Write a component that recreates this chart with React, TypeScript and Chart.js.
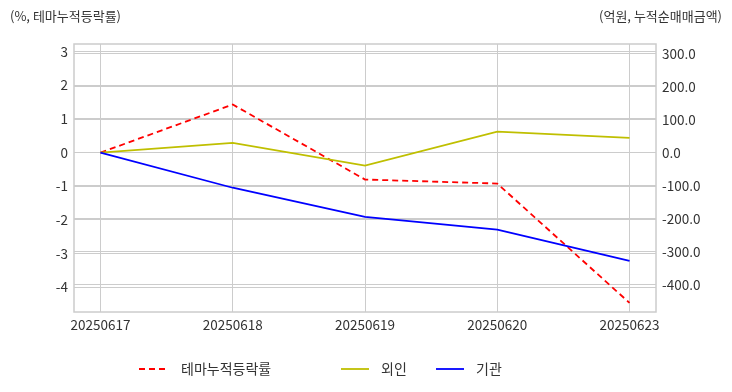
import React, { useEffect, useRef } from 'react';
import { Chart, registerables } from 'chart.js';

Chart.register(...registerables);

const dates = ['20250617', '20250618', '20250619', '20250620', '20250623'];
const themeRate = [0, 1.43, -0.8, -0.92, -4.47];
const foreignNet = [0, 30, -39, 64, 45];
const institutionNet = [0, -106, -194, -233, -327];
const leftTicks = [3, 2, 1, 0, -1, -2, -3, -4];
const rightTicks = [300, 200, 100, 0, -100, -200, -300, -400];
const leftTitle = '(%, 테마누적등락률)';
const rightTitle = '(억원, 누적순매매금액)';
const seriesNames = ['테마누적등락률', '외인', '기관'];
const seriesColors = ['#ff0000', '#bfbf00', '#0000ff'];

const FONT = '"Noto Sans CJK KR", "Noto Sans", sans-serif';
const TEXT = '#333333';
const GRID = '#cccccc';

const overlay = {
  id: 'overlay',
  beforeDatasetsDraw(chart: any) {
    const { ctx, chartArea: a } = chart;
    ctx.save();
    ctx.strokeStyle = GRID;
    ctx.lineWidth = 1.5;
    ctx.strokeRect(a.left, a.top, a.right - a.left, a.bottom - a.top);
    ctx.restore();
  },
  afterDraw(chart: any) {
    const { ctx } = chart;
    ctx.save();
    ctx.fillStyle = TEXT;
    ctx.font = `13px ${FONT}`;
    ctx.textBaseline = 'middle';
    ctx.textAlign = 'left';
    ctx.fillText(leftTitle, 10, 16);
    ctx.textAlign = 'right';
    ctx.fillText(rightTitle, 722, 16);

    const items = [
      { x: 139, tx: 181, dash: [6, 4] },
      { x: 341, tx: 381, dash: [] },
      { x: 436, tx: 476, dash: [] },
    ];
    const ly = 369;
    items.forEach((it, i) => {
      ctx.beginPath();
      ctx.setLineDash(it.dash);
      ctx.strokeStyle = seriesColors[i];
      ctx.lineWidth = 1.8;
      ctx.moveTo(it.x, ly);
      ctx.lineTo(it.x + 28, ly);
      ctx.stroke();
      ctx.setLineDash([]);
      ctx.fillStyle = TEXT;
      ctx.font = `14px ${FONT}`;
      ctx.textAlign = 'left';
      ctx.textBaseline = 'middle';
      ctx.fillText(seriesNames[i], it.tx, ly);
    });
    ctx.restore();
  },
};

export default function App() {
  const ref = useRef<HTMLCanvasElement | null>(null);

  useEffect(() => {
    document.body.style.margin = '0';
    const canvas = ref.current;
    if (!canvas) return;
    const toPts = (arr: number[]) => arr.map((v, i) => ({ x: i, y: v }));
    const chart = new Chart(canvas, {
      type: 'line',
      data: {
        datasets: [
          {
            label: seriesNames[0],
            data: toPts(themeRate),
            yAxisID: 'y',
            borderColor: seriesColors[0],
            borderDash: [6, 4],
            borderWidth: 1.8,
            pointRadius: 0,
            tension: 0,
            order: 3,
          },
          {
            label: seriesNames[1],
            data: toPts(foreignNet),
            yAxisID: 'y1',
            borderColor: seriesColors[1],
            borderWidth: 1.8,
            pointRadius: 0,
            tension: 0,
            order: 2,
          },
          {
            label: seriesNames[2],
            data: toPts(institutionNet),
            yAxisID: 'y1',
            borderColor: seriesColors[2],
            borderWidth: 1.8,
            pointRadius: 0,
            tension: 0,
            order: 1,
          },
        ],
      },
      options: {
        responsive: false,
        animation: false,
        events: [],
        layout: { padding: { top: 44, left: 0, right: 0, bottom: 0 } },
        plugins: { legend: { display: false }, tooltip: { enabled: false } },
        scales: {
          x: {
            type: 'linear',
            min: -0.2,
            max: 4.2,
            afterBuildTicks: (s: any) => {
              s.ticks = dates.map((_, i) => ({ value: i }));
            },
            afterFit: (s: any) => {
              s.height = 80;
            },
            ticks: {
              callback: (v: any) => dates[v as number] ?? '',
              color: TEXT,
              font: { family: FONT, size: 13.5 },
              padding: 5,
              maxRotation: 0,
              autoSkip: false,
            },
            grid: { color: GRID, lineWidth: 1, drawTicks: false },
            border: { display: false },
          },
          y: {
            type: 'linear',
            position: 'left',
            min: -4.74,
            max: 3.23,
            afterBuildTicks: (s: any) => {
              s.ticks = leftTicks.map((v) => ({ value: v }));
            },
            afterFit: (s: any) => {
              s.width = 74;
            },
            ticks: {
              callback: (v: any) => String(v),
              color: TEXT,
              font: { family: FONT, size: 13.5 },
              padding: 6,
            },
            grid: { color: GRID, lineWidth: 1, drawTicks: false },
            border: { display: false },
          },
          y1: {
            type: 'linear',
            position: 'right',
            min: -482,
            max: 329,
            afterBuildTicks: (s: any) => {
              s.ticks = rightTicks.map((v) => ({ value: v }));
            },
            afterFit: (s: any) => {
              s.width = 76;
            },
            ticks: {
              callback: (v: any) => Number(v).toFixed(1),
              color: TEXT,
              font: { family: FONT, size: 13.5 },
              padding: 6,
            },
            grid: { color: GRID, lineWidth: 1, drawTicks: false, drawOnChartArea: true },
            border: { display: false },
          },
        },
      },
      plugins: [overlay],
    });
    return () => chart.destroy();
  }, []);

  return (
    <div style={{ position: 'absolute', left: 0, top: 0, width: 732, height: 392, background: '#fff' }}>
      <canvas ref={ref} width={732} height={392} style={{ display: 'block', width: 732, height: 392 }} />
    </div>
  );
}
